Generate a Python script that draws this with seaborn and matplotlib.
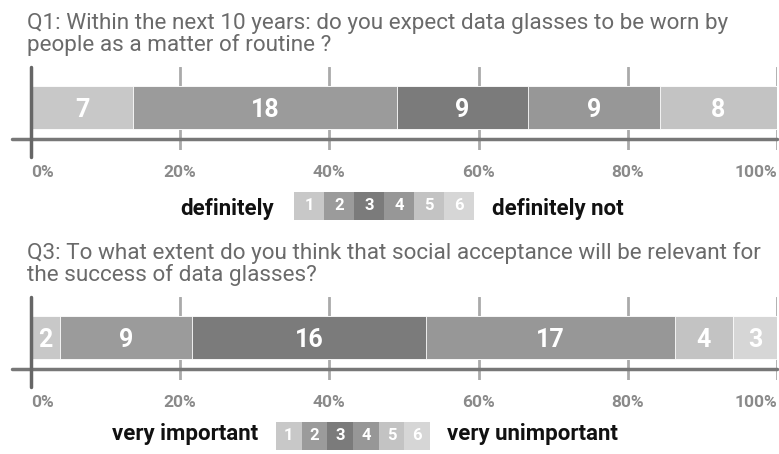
import numpy as np
import pandas as pd
import seaborn as sns
import matplotlib.pyplot as plt
from matplotlib.colors import ListedColormap

sns.set_style("white")
plt.rcParams['font.family'] = ['Roboto', 'DejaVu Sans']

# answer levels 1..6 and their grey shades
levels = ['1', '2', '3', '4', '5', '6']
level_colors = ['#c8c8c8', '#9b9b9b', '#7b7b7b', '#979797', '#c3c3c3', '#d6d6d6']

q1_title = ['Q1: Within the next 10 years: do you expect data glasses to be worn by',
            'people as a matter of routine ?']
q1_counts = [7, 18, 9, 9, 8, 0]
q1_ends = ['definitely', 'definitely not']

q3_title = ['Q3: To what extent do you think that social acceptance will be relevant for',
            'the success of data glasses?']
q3_counts = [2, 9, 16, 17, 4, 3]
q3_ends = ['very important', 'very unimportant']

pct_ticks = [0, 20, 40, 60, 80, 100]

W, H = 779, 454
fig = plt.figure(figsize=(W / 100, H / 100), dpi=100)


# axes placed in pixel coordinates (from top-left)
def px_axes(x0, y0, x1, y1):
    return fig.add_axes([x0 / W, 1 - y1 / H, (x1 - x0) / W, (y1 - y0) / H])


def draw_question(title, counts, ends, top, box, text_base, end_x):
    # two-line title
    for k, line in enumerate(title):
        fig.text(27 / W, 1 - (top - 38.5 + 23 * k) / H, line, fontsize=16.2,
                 color='#6a6a6a', va='baseline')

    ax = px_axes(31, top, 777, top + 83)
    df = pd.DataFrame({'level': levels, 'count': counts})
    df['pct'] = df['count'] / df['count'].sum() * 100
    df['cum'] = df['pct'].cumsum()

    # stacked bar: draw cumulative bars from the last level to the first
    for i in reversed(range(len(levels))):
        sns.barplot(x=[df['cum'][i]], y=['q'], orient='h', color=level_colors[i],
                    width=0.8, saturation=1, errorbar=None, ax=ax, zorder=2,
                    linewidth=0.6)

    for i, row in df.iterrows():
        if row['count'] > 0:
            ax.text(row['cum'] - row['pct'] / 2, 0, str(row['count']), ha='center',
                    va='center_baseline', color='white', fontsize=18, fontweight='bold', zorder=4)

    ax.set_xlim(0, 100)
    ax.set_ylim(0.78, -0.74)
    ax.set_xticks(pct_ticks)
    ax.set_xticklabels([f'{t}%' for t in pct_ticks], fontweight='bold')
    labels = ax.get_xticklabels()
    labels[0].set_ha('left')
    labels[-1].set_ha('right')
    ax.tick_params(axis='x', length=0, pad=11, labelsize=12.5, labelcolor='#8a8a8a')
    ax.set_yticks([])
    ax.set_xlabel('')
    ax.set_ylabel('')
    ax.grid(True, axis='x', color='#aaaaaa', lw=2, zorder=0)
    ax.set_axisbelow(True)
    sns.despine(ax=ax, left=True, bottom=True)

    ax.axhline(0.57, xmin=-0.026, xmax=1, color='#777777', lw=2.5, clip_on=False, zorder=3)
    ax.axvline(0, ymin=-0.085, ymax=1, color='#666666', lw=2.5, clip_on=False, zorder=5)

    # legend strip
    lax = px_axes(*box)
    sns.heatmap(np.arange(len(levels))[None, :], cmap=ListedColormap(level_colors),
                vmin=-0.5, vmax=len(levels) - 0.5, annot=np.array([levels]), fmt='',
                cbar=False, xticklabels=False, yticklabels=False, ax=lax,
                annot_kws={'color': 'white', 'fontsize': 12, 'fontweight': 'bold'})

    fig.text(end_x[0] / W, 1 - text_base / H, ends[0], ha='right', va='baseline',
             fontsize=16, fontweight='bold', color='#111111')
    fig.text(end_x[1] / W, 1 - text_base / H, ends[1], ha='left', va='baseline',
             fontsize=16, fontweight='bold', color='#111111')


draw_question(q1_title, q1_counts, q1_ends, 67, (294, 192, 474, 220), 215, (274, 492))
draw_question(q3_title, q3_counts, q3_ends, 297, (276, 422, 430, 450), 440, (258, 447))

fig.savefig('out.png', dpi=100)
